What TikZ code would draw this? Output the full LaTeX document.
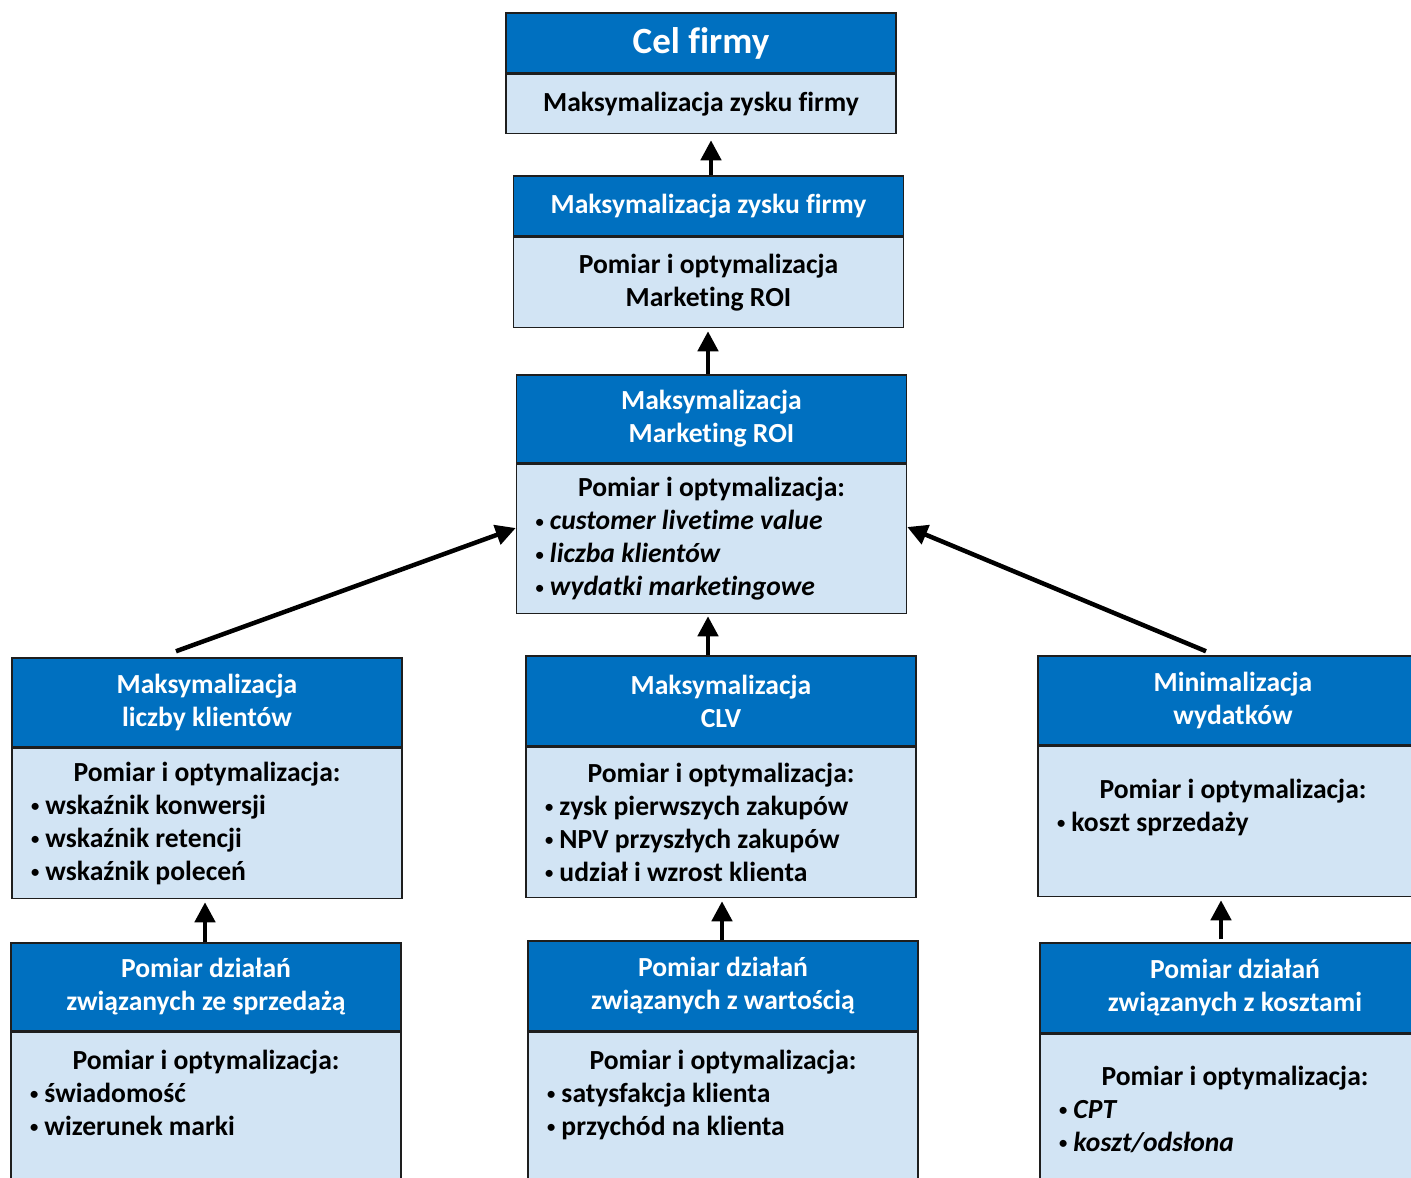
\documentclass[tikz,border=0pt]{standalone}
\usepackage{fontspec}
\setmainfont{Carlito}[Ligatures=NoCommon]
\usepackage{xcolor}
\usepackage{tikz}
\usetikzlibrary{positioning,arrows.meta}

\definecolor{hdrblue}{RGB}{0,112,192}
\definecolor{bodyblue}{RGB}{210,228,244}
\definecolor{edgegray}{RGB}{30,30,30}
\newcommand{\blt}{\raisebox{0.2ex}{\scalebox{0.6}{•}}\ }

\begin{document}
\begin{tikzpicture}[x=1pt, y=1pt, node distance=0pt,
  font=\fontsize{27.6}{33}\selectfont\bfseries,
  header/.style={rectangle, minimum width=390pt, minimum height=89pt, inner sep=0pt, align=center, text=white, draw=edgegray, line width=1.5pt, fill=hdrblue},
  panel/.style={rectangle, minimum width=390pt, inner sep=0pt, draw=edgegray, line width=1.5pt, fill=bodyblue},
  simple/.style={panel, align=center},
  body/.style={panel, minimum height=150pt, text width=352pt, inner xsep=19pt, align=left, execute at begin node={\spaceskip=0pt\xspaceskip=0pt\relax}},
  arrow/.style={line width=4.5pt,->,>={Stealth[length=20pt,width=20pt,inset=0pt]}}]

  \useasboundingbox (0,0) rectangle (1411,-1178);
  \clip (0,0) rectangle (1411,-1178);

  % top: goal of the company
  \node (hdr1) [header, minimum height=60pt, font=\fontsize{37}{40}\selectfont\bfseries] at (701,-43) {Cel firmy};
  \node (body1) [simple, below=of hdr1, minimum height=59pt] {Maksymalizacja zysku firmy};

  \node (hdr2) [header, minimum height=60pt] at (708.5,-206) {Maksymalizacja zysku firmy};
  \node (body2) [simple, below=of hdr2, minimum height=90pt] {Pomiar i optymalizacja\\Marketing ROI};

  \node (hdr3) [header, minimum height=88pt] at (711.5,-419) {Maksymalizacja\\Marketing ROI};
  \node (body3) [body, below=of hdr3, minimum height=149pt] {\makebox[\hsize]{Pomiar i optymalizacja:}\\
    \blt\textit{customer livetime value}\\
    \blt\textit{liczba klientów}\\
    \blt\textit{wydatki marketingowe}};

  % middle row
  \node (hdr4) [header] at (207,-702.5) {Maksymalizacja\\liczby klientów};
  \node (body4) [body, below=of hdr4] {\makebox[\hsize]{Pomiar i optymalizacja:}\\
    \blt wskaźnik konwersji\\
    \blt wskaźnik retencji\\
    \blt wskaźnik poleceń};

  \node (hdr5) [header, minimum height=90pt] at (721,-701) {Maksymalizacja\\CLV};
  \node (body5) [body, below=of hdr5] {\makebox[\hsize]{Pomiar i optymalizacja:}\\
    \blt zysk pierwszych zakupów\\
    \blt NPV przyszłych zakupów\\
    \blt udział i wzrost klienta};

  \node (hdr6) [header] at (1233,-700.5) {Minimalizacja\\wydatków};
  \node (body6) [body, below=of hdr6] {\makebox[\hsize]{Pomiar i optymalizacja:}\\
    \blt koszt sprzedaży\\
    \mbox{}};

  % bottom row
  \node (hdr7) [header, minimum height=88pt] at (206,-987) {Pomiar działań\\związanych ze sprzedażą};
  \node (body7) [body, below=of hdr7, minimum height=153pt] {\makebox[\hsize]{Pomiar i optymalizacja:}\\
    \blt świadomość\\
    \blt wizerunek marki\\
    \mbox{}};

  \node (hdr8) [header, minimum height=90pt] at (723,-986) {Pomiar działań\\związanych z wartością};
  \node (body8) [body, below=of hdr8, minimum height=153pt] {\makebox[\hsize]{Pomiar i optymalizacja:}\\
    \blt satysfakcja klienta\\
    \blt przychód na klienta\\
    \mbox{}};

  \node (hdr9) [header, minimum height=90pt] at (1235,-988) {Pomiar działań\\związanych z kosztami};
  \node (body9) [body, below=of hdr9] {\makebox[\hsize]{Pomiar i optymalizacja:}\\
    \blt\textit{CPT}\\
    \blt\textit{koszt/odsłona}};

  % arrows
  \draw [arrow, shorten >=6pt] ([xshift=2.5pt]hdr2.north) -- ([xshift=2.5pt]hdr2.north |- body1.south);
  \draw [arrow, shorten >=3pt] ([xshift=-3.5pt]hdr3.north) -- ([xshift=-3.5pt]hdr3.north |- body2.south);
  \draw [arrow, shorten >=2pt] ([xshift=-13pt]hdr5.north) -- ([xshift=-13pt]hdr5.north |- body3.south);
  \draw [arrow] ([xshift=-31pt,yshift=6pt]hdr4.north) -- ([yshift=11pt]body3.west);
  \draw [arrow] ([xshift=-27pt,yshift=4pt]hdr6.north) -- ([yshift=12pt]body3.east);
  \draw [arrow, shorten >=3pt] ([xshift=-1pt]hdr7.north) -- ([xshift=-1pt]hdr7.north |- body4.south);
  \draw [arrow, shorten >=3pt] ([xshift=-1pt]hdr8.north) -- ([xshift=-1pt]hdr8.north |- body5.south);
  \draw [arrow, shorten >=3pt] ([xshift=-14pt,yshift=3pt]hdr9.north) -- ([xshift=-14pt]hdr9.north |- body6.south);
\end{tikzpicture}
\end{document}
